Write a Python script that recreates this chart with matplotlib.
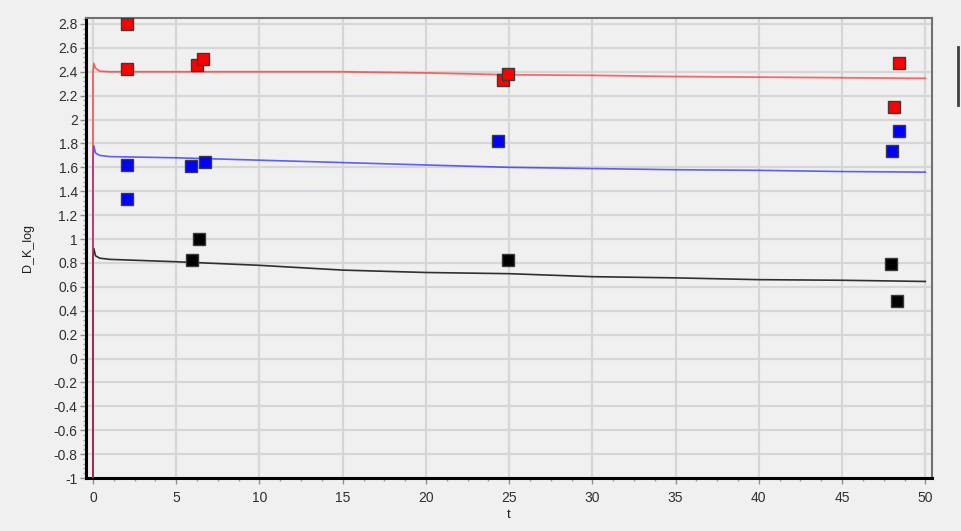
import matplotlib
matplotlib.use("Agg")
import matplotlib.pyplot as plt
from matplotlib.ticker import MultipleLocator, FuncFormatter
from matplotlib.lines import Line2D

plt.rcParams['font.family'] = ['Liberation Sans', 'DejaVu Sans']

# model curves
t_curve = [0, 0.0, 0.05, 0.15, 0.4, 1, 5, 10, 15, 20, 25, 30, 35, 40, 45, 50]
red_curve = [-1.2, 2.40, 2.47, 2.43, 2.405, 2.40, 2.40, 2.40, 2.40, 2.39, 2.375, 2.37, 2.36, 2.355, 2.35, 2.345]
blue_curve = [-1.2, 1.70, 1.78, 1.72, 1.70, 1.69, 1.68, 1.66, 1.64, 1.62, 1.60, 1.59, 1.58, 1.575, 1.565, 1.56]
black_curve = [-1.2, 0.85, 0.92, 0.86, 0.84, 0.83, 0.81, 0.78, 0.74, 0.72, 0.71, 0.685, 0.675, 0.66, 0.655, 0.645]

# observed points
red_t = [2.04, 2.04, 6.25, 6.6, 24.6, 24.9, 48.1, 48.4]
red_y = [2.80, 2.42, 2.46, 2.51, 2.33, 2.38, 2.105, 2.47]
blue_t = [2.04, 2.04, 5.9, 6.7, 24.3, 48.0, 48.4]
blue_y = [1.62, 1.335, 1.61, 1.645, 1.82, 1.74, 1.905]
black_t = [6.37, 5.95, 24.9, 47.96, 48.3]
black_y = [1.0, 0.825, 0.825, 0.79, 0.48]

x_label = "t"
y_label = "D_K_log"

bg = "#f0f0f0"
fig = plt.figure(figsize=(9.61, 5.31), dpi=100, facecolor=bg)
ax = fig.add_axes([86/961, 1-478/531, (932-86)/961, (478-18)/531], facecolor=bg)

ax.plot(t_curve, black_curve, color="#303030", lw=1.2, zorder=3)
ax.plot(t_curve, blue_curve, color="#2020ff", lw=1.2, zorder=3, alpha=0.7)
ax.plot(t_curve, red_curve, color="#ff2020", lw=1.3, zorder=3, alpha=0.65)

ms = 9
ax.plot(red_t, red_y, 's', color="#ff0000", mec="#3a3a3a", mew=1.0, ms=ms, ls='none', zorder=4)
ax.plot(blue_t, blue_y, 's', color="#0000ff", mec="#3a3a3a", mew=1.0, ms=ms, ls='none', zorder=4)
ax.plot(black_t, black_y, 's', color="#000000", mec="#3a3a3a", mew=1.0, ms=ms, ls='none', zorder=4)

ax.set_xlim(-0.42, 50.4)
ax.set_ylim(-1.0, 2.85)
ax.xaxis.set_major_locator(MultipleLocator(5))
ax.xaxis.set_minor_locator(MultipleLocator(1.25))
ax.yaxis.set_major_locator(MultipleLocator(0.2))
ax.yaxis.set_minor_locator(MultipleLocator(0.04))

def fmt(v, pos):
    s = f"{v:.1f}"
    if s.endswith(".0"):
        s = s[:-2]
    if s == "-0":
        s = "0"
    return s
ax.yaxis.set_major_formatter(FuncFormatter(fmt))
ax.xaxis.set_major_formatter(FuncFormatter(lambda v, p: f"{int(round(v))}"))

ax.grid(True, which='major', color="#d6d6d6", lw=1.6, zorder=0)
ax.set_axisbelow(True)

for s in ['left', 'bottom']:
    ax.spines[s].set_color('black')
    ax.spines[s].set_linewidth(2.2)
for s in ['top', 'right']:
    ax.spines[s].set_color('#707070')
    ax.spines[s].set_linewidth(1.5)

ax.tick_params(which='major', length=4, width=1, color='#909090', labelsize=10, labelcolor='#303030', pad=2)
ax.tick_params(axis='x', which='major', pad=5)
ax.tick_params(which='minor', length=2.5, width=1, color='#a0a0a0')

ax.set_xlabel(x_label, fontsize=9.5, color='#202020', labelpad=3)
ax.set_ylabel(y_label, fontsize=9, color='#202020', labelpad=14)

fig.add_artist(Line2D([958/961, 958/961], [1-47/531, 1-105/531], transform=fig.transFigure, color='#404040', lw=2))

fig.savefig("out.png", dpi=100, facecolor=bg)
